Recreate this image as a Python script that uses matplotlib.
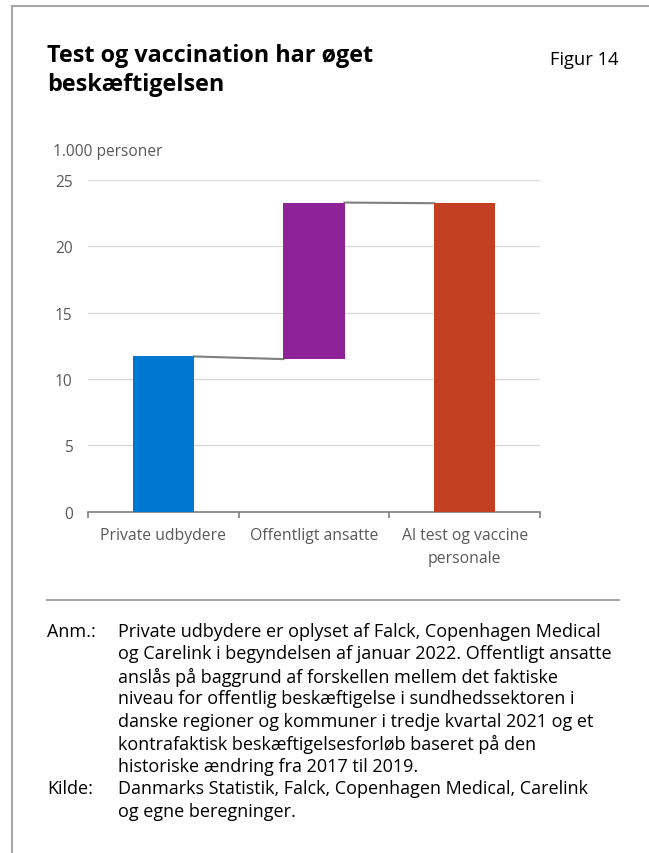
import matplotlib
matplotlib.use("Agg")
import matplotlib.pyplot as plt
from matplotlib.lines import Line2D

plt.rcParams['font.family'] = ['Open Sans', 'DejaVu Sans']

categories = ["Private udbydere", "Offentligt ansatte", "Al test og vaccine\npersonale"]
bar_bottoms = [0.0, 11.5, 0.0]
bar_tops = [11.7, 23.3, 23.3]
colors = ["#0078D2", "#8E2398", "#C43E22"]
y_ticks = [0, 5, 10, 15, 20, 25]

W, H = 649, 854
fig = plt.figure(figsize=(W/100, H/100), dpi=100)

def fx(px): return px / W
def fy(py): return 1 - py / H

# frame lines
fig.add_artist(Line2D([fx(12), fx(12)], [fy(7), fy(854)], color="#a6a6a6", lw=1.5))
fig.add_artist(Line2D([fx(12), fx(649)], [fy(7), fy(7)], color="#a6a6a6", lw=1.5))

ax = fig.add_axes([fx(88), fy(512.7), fx(540) - fx(88), fy(181) - fy(512.7)])
x = list(range(len(categories)))
heights = [t - b for t, b in zip(bar_tops, bar_bottoms)]
ax.bar(x, heights, bottom=bar_bottoms, width=0.405, color=colors, zorder=3)

# connector lines
bw = 0.405 / 2
ax.plot([x[0] + bw, x[1] - bw], [bar_tops[0], bar_bottoms[1]], color="#7f7f7f", lw=1.5, zorder=2)
ax.plot([x[1] + bw, x[2] - bw], [bar_tops[1], bar_tops[2] - 0.05], color="#7f7f7f", lw=1.5, zorder=2)

ax.set_xlim(-0.5, 2.5)
ax.set_ylim(0, 25)
ax.set_yticks(y_ticks)
ax.set_yticklabels([str(v) for v in y_ticks])
ax.yaxis.grid(True, color="#d9d9d9", lw=1)
ax.set_axisbelow(True)
for s in ["top", "right", "left"]:
    ax.spines[s].set_visible(False)
ax.spines["bottom"].set_color("#7f7f7f")
ax.spines["bottom"].set_linewidth(1.2)
ax.tick_params(axis="y", length=0, pad=11, labelsize=11.2, labelcolor="#595959")
ax.set_xticks(x)
ax.set_xticklabels(categories, fontsize=11.3, color="#595959", linespacing=1.6)
ax.tick_params(axis="x", which="major", length=0, pad=11)
ax.set_xticks([-0.5, 0.5, 1.5, 2.5], minor=True)
ax.tick_params(axis="x", which="minor", length=4, color="#7f7f7f", width=1.2, direction="out")

fig.text(fx(53), fy(152), "1.000 personer", fontsize=11.2, color="#595959", va="center", ha="left")

fig.text(fx(47), fy(56), "Test og vaccination har øget", fontsize=16.8, fontweight="bold", va="center", ha="left", color="black")
fig.text(fx(47), fy(85), "beskæftigelsen", fontsize=16.8, fontweight="bold", va="center", ha="left", color="black")
fig.text(fx(619), fy(60), "Figur 14", fontsize=13.2, va="center", ha="right", color="black")

fig.add_artist(Line2D([fx(47), fx(619)], [fy(601), fy(601)], color="#a6a6a6", lw=1.5))

notes = ["Private udbydere er oplyset af Falck, Copenhagen Medical",
         "og Carelink i begyndelsen af januar 2022. Offentligt ansatte",
         "anslås på baggrund af forskellen mellem det faktiske",
         "niveau for offentlig beskæftigelse i sundhedssektoren i",
         "danske regioner og kommuner i tredje kvartal 2021 og et",
         "kontrafaktisk beskæftigelsesforløb baseret på den",
         "historiske ændring fra 2017 til 2019."]
source = ["Danmarks Statistik, Falck, Copenhagen Medical, Carelink",
          "og egne beregninger."]
y0 = 632
step = 22.5
fs = 13.0
fig.text(fx(47), fy(y0), "Anm.:", fontsize=fs, va="center", ha="left")
for i, line in enumerate(notes):
    fig.text(fx(118), fy(y0 + i * step), line, fontsize=fs, va="center", ha="left")
ys = y0 + len(notes) * step
fig.text(fx(47), fy(ys), "Kilde:", fontsize=fs, va="center", ha="left")
for i, line in enumerate(source):
    fig.text(fx(118), fy(ys + i * step), line, fontsize=fs, va="center", ha="left")

fig.savefig("out.png", dpi=100)
